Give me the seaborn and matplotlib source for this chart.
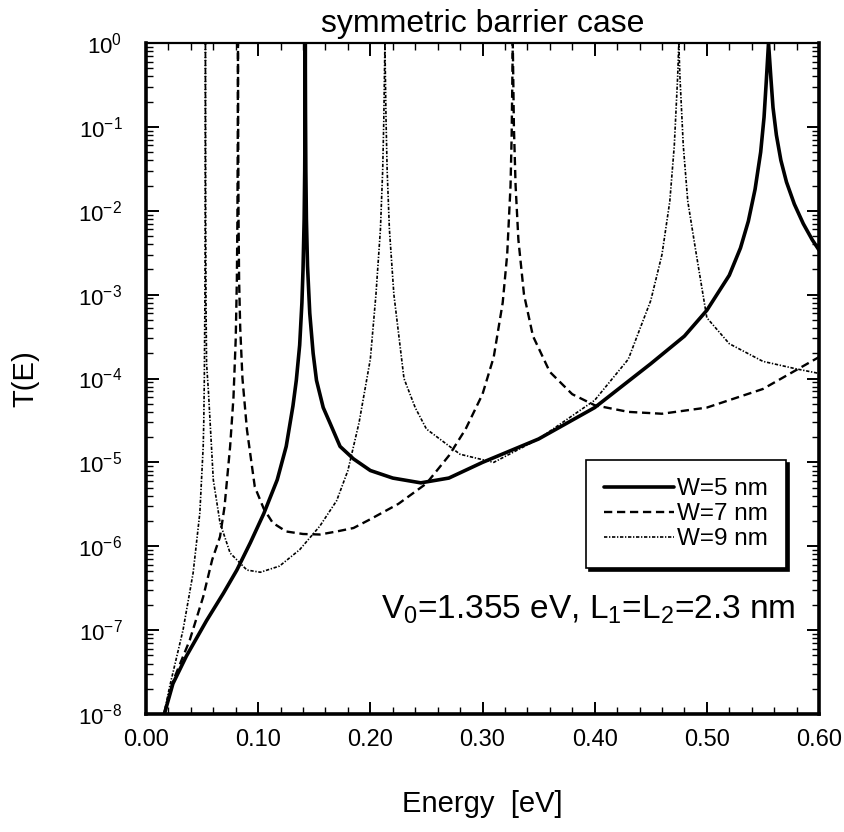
import numpy as np
import pandas as pd
import matplotlib
matplotlib.use("Agg")
import matplotlib.pyplot as plt
import matplotlib.font_manager as fm
import seaborn as sns
from matplotlib.ticker import MultipleLocator, LogLocator, NullFormatter, FixedLocator, FixedFormatter

# ---------------- data ----------------
E_w5 = [0.012, 0.017, 0.024, 0.036, 0.054, 0.069, 0.081, 0.093, 0.105, 0.117, 0.125,
        0.131, 0.134, 0.137, 0.139, 0.140, 0.141, 0.1415, 0.1418, 0.142, 0.1422,
        0.1425, 0.143, 0.144, 0.146, 0.149, 0.152, 0.158, 0.164, 0.173, 0.185,
        0.200, 0.220, 0.245, 0.270, 0.300, 0.350, 0.400, 0.450, 0.480, 0.500,
        0.520, 0.530, 0.537, 0.543, 0.548, 0.551, 0.553, 0.555, 0.557, 0.559,
        0.562, 0.566, 0.571, 0.578, 0.586, 0.594, 0.600]
T_w5 = [6e-9, 1.07e-8, 2.3e-8, 4.9e-8, 1.3e-7, 2.75e-7, 5.2e-7, 1.1e-6, 2.45e-6, 6.2e-6, 1.55e-5,
        4.7e-5, 9.5e-5, 2.5e-4, 8e-4, 2e-3, 8e-3, 3e-2, 0.15, 1.0, 0.15,
        3e-2, 8e-3, 2.2e-3, 6e-4, 2e-4, 9.5e-5, 4.5e-5, 2.95e-5, 1.55e-5, 1.1e-5,
        8e-6, 6.5e-6, 5.7e-6, 6.5e-6, 1.0e-5, 1.9e-5, 4.5e-5, 1.5e-4, 3.2e-4, 6.5e-4,
        1.7e-3, 3.6e-3, 7.5e-3, 1.8e-2, 5e-2, 0.13, 0.35, 1.0, 0.4, 0.17,
        0.08, 4e-2, 2.2e-2, 1.2e-2, 7e-3, 4.5e-3, 3.4e-3]

E_w7 = [0.012, 0.016, 0.024, 0.039, 0.051, 0.059, 0.066, 0.070, 0.075, 0.078, 0.080,
        0.081, 0.0815, 0.0818, 0.082, 0.0822, 0.0825, 0.083, 0.084, 0.086, 0.090,
        0.097, 0.105, 0.113, 0.125, 0.140, 0.155, 0.170, 0.185, 0.200, 0.225,
        0.250, 0.270, 0.285, 0.300, 0.310, 0.318, 0.322, 0.325, 0.326, 0.327,
        0.328, 0.3295, 0.332, 0.337, 0.345, 0.360, 0.380, 0.400, 0.430, 0.460,
        0.500, 0.550, 0.600]
T_w7 = [5e-9, 1e-8, 2.45e-8, 7.6e-8, 2.5e-7, 6.9e-7, 1.3e-6, 2.95e-6, 1.55e-5, 6e-5, 3e-4,
        1.5e-3, 8e-3, 0.08, 1.0, 0.08, 8e-3, 1.5e-3, 4e-4, 1e-4, 2.45e-5,
        5.1e-6, 2.8e-6, 1.9e-6, 1.5e-6, 1.4e-6, 1.38e-6, 1.5e-6, 1.65e-6, 2.1e-6, 3.2e-6,
        5.6e-6, 1.2e-5, 2.5e-5, 6.5e-5, 1.8e-4, 8e-4, 3e-3, 2e-2, 0.08, 1.0,
        0.1, 2e-2, 4.5e-3, 1e-3, 3.2e-4, 1.2e-4, 6.5e-5, 4.8e-5, 4e-5, 3.8e-5,
        4.5e-5, 7.5e-5, 1.8e-4]

E_w9 = [0.012, 0.016, 0.021, 0.033, 0.042, 0.048, 0.051, 0.0515, 0.052, 0.0525, 0.0528,
        0.053, 0.0532, 0.0535, 0.054, 0.0556, 0.060, 0.066, 0.075, 0.090, 0.102,
        0.119, 0.137, 0.155, 0.170, 0.180, 0.190, 0.200, 0.205, 0.209, 0.211,
        0.212, 0.213, 0.214, 0.215, 0.217, 0.221, 0.230, 0.240, 0.250, 0.280,
        0.310, 0.350, 0.400, 0.430, 0.450, 0.460, 0.467, 0.471, 0.474, 0.475,
        0.476, 0.479, 0.483, 0.490, 0.500, 0.520, 0.550, 0.580, 0.600]
T_w9 = [4e-9, 1e-8, 2.1e-8, 1e-7, 4.8e-7, 2.5e-6, 1.55e-5, 3e-5, 1e-4, 8e-4, 1e-2,
        1.0, 1e-2, 8e-4, 1.5e-4, 7.2e-5, 6.2e-6, 1.9e-6, 8.3e-7, 5.2e-7, 4.9e-7,
        5.8e-7, 9.1e-7, 1.74e-6, 3.5e-6, 8e-6, 3e-5, 1.7e-4, 1e-3, 6e-3, 3e-2,
        0.12, 1.0, 0.12, 3e-2, 6e-3, 1e-3, 1e-4, 4.5e-5, 2.5e-5, 1.25e-5,
        1.0e-5, 1.9e-5, 5.5e-5, 1.7e-4, 8.5e-4, 3e-3, 1.3e-2, 6e-2, 0.4, 1.0,
        0.4, 6e-2, 1.3e-2, 3.4e-3, 5.3e-4, 2.6e-4, 1.6e-4, 1.3e-4, 1.15e-4]

labels = ["W=5 nm", "W=7 nm", "W=9 nm"]
xticks = [0.0, 0.1, 0.2, 0.3, 0.4, 0.5, 0.6]
xticklabels = ["0.00", "0.10", "0.20", "0.30", "0.40", "0.50", "0.60"]
title = "symmetric barrier case"
xlabel = "Energy  [eV]"
ylabel = "T(E)"
note = r"V$_0$=1.355 eV, L$_1$=L$_2$=2.3 nm"

# ---------------- styling ----------------
sns.set_theme(style="ticks")
installed = {f.name for f in fm.fontManager.ttflist}
narrow = "Liberation Sans Narrow" if "Liberation Sans Narrow" in installed else "Liberation Sans"
plt.rcParams["font.family"] = ["Liberation Sans", "DejaVu Sans"]
plt.rcParams["text.color"] = "black"
plt.rcParams["axes.labelcolor"] = "black"
plt.rcParams["mathtext.fontset"] = "custom"
plt.rcParams["mathtext.rm"] = narrow
plt.rcParams["mathtext.it"] = narrow
plt.rcParams["mathtext.default"] = "regular"

fig = plt.figure(figsize=(8.44, 8.32), dpi=100)
ax = fig.add_axes([146 / 844, 1 - 714 / 832, (819 - 146) / 844, (714 - 43) / 832])

df5 = pd.DataFrame({"E": E_w5, "T": T_w5})
df7 = pd.DataFrame({"E": E_w7, "T": T_w7})
df9 = pd.DataFrame({"E": E_w9, "T": T_w9})

sns.lineplot(data=df5, x="E", y="T", ax=ax, color="black", lw=2.6,
             label=labels[0], estimator=None, sort=False)
sns.lineplot(data=df7, x="E", y="T", ax=ax, color="black", lw=1.7,
             label=labels[1], estimator=None, sort=False)
sns.lineplot(data=df9, x="E", y="T", ax=ax, color="black", lw=1.2,
             label=labels[2], estimator=None, sort=False)
ax.lines[0].set_linestyle("-")
ax.lines[1].set_dashes([3.5, 2.0])
ax.lines[2].set_dashes([2.0, 1.0, 0.8, 1.0])

ax.set_yscale("log")
ax.set_xlim(0, 0.6)
ax.set_ylim(1e-8, 1)

ax.xaxis.set_major_locator(FixedLocator(xticks))
ax.xaxis.set_major_formatter(FixedFormatter(xticklabels))
ax.xaxis.set_minor_locator(MultipleLocator(0.02))
ax.yaxis.set_major_locator(LogLocator(base=10, numticks=20))
ax.yaxis.set_minor_locator(LogLocator(base=10, subs=np.arange(2, 10), numticks=20))
ax.yaxis.set_minor_formatter(NullFormatter())

ax.tick_params(which="both", direction="in", top=True, right=True, colors="black")
ax.tick_params(which="major", length=9, width=1.4)
ax.tick_params(which="minor", length=5, width=1.0)
ax.tick_params(axis="x", which="major", labelsize=17, pad=11)
ax.tick_params(axis="y", which="major", labelsize=16, pad=17)
for lbl in ax.get_xticklabels():
    lbl.set_fontfamily([narrow, "DejaVu Sans"])

for side in ["left", "bottom", "right"]:
    ax.spines[side].set_linewidth(2.6)
ax.spines["top"].set_linewidth(1.6)
for s in ax.spines.values():
    s.set_color("black")

ax.set_title(title, fontsize=23, pad=8)
ax.set_xlabel(xlabel, fontsize=21, labelpad=28)
ax.set_ylabel(ylabel, fontsize=21, labelpad=28)

ax.text(0.5786, 1.75e-7, note, fontsize=24, ha="right", va="center")

leg = ax.legend(loc="upper right", bbox_to_anchor=(0.951, 0.3785), frameon=True,
                fancybox=False, shadow={"color": "black", "alpha": 1.0},
                edgecolor="black", framealpha=1, fontsize=17.5, handlelength=2.9,
                handletextpad=0.1, labelspacing=0.12, borderpad=0.75,
                borderaxespad=0)
leg.get_frame().set_linewidth(1.2)

fig.savefig("out.png", dpi=100)
